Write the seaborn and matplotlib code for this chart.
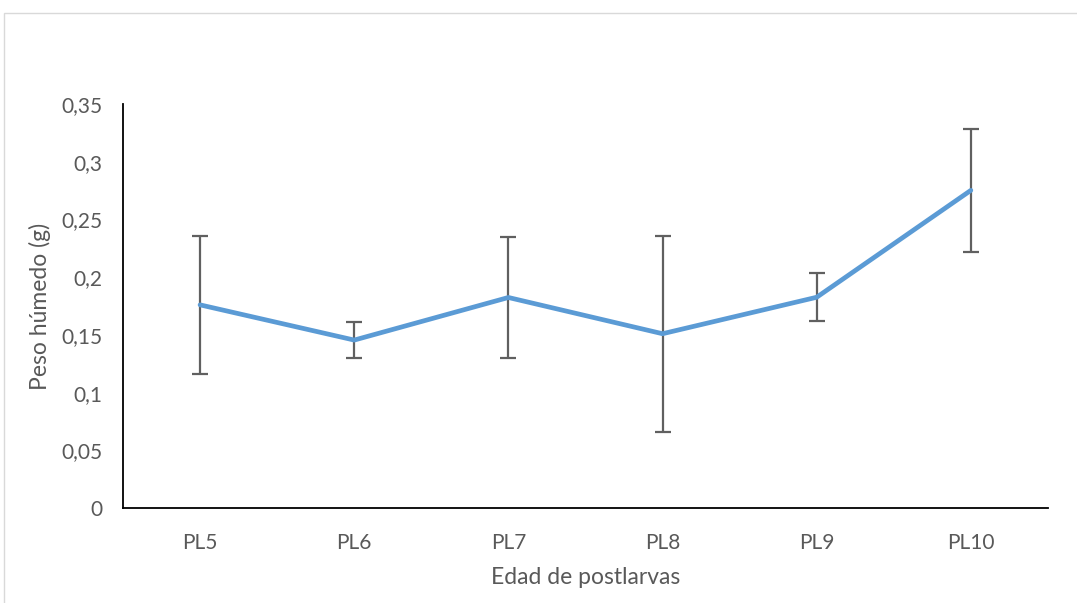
import matplotlib
matplotlib.use("Agg")
import matplotlib.pyplot as plt
import seaborn as sns
import pandas as pd
from matplotlib.patches import Rectangle
from matplotlib.ticker import FuncFormatter

# Wet weight of postlarvae by age (mean and error)
edades = ["PL5", "PL6", "PL7", "PL8", "PL9", "PL10"]
peso_medio = [0.176, 0.1455, 0.1824, 0.151, 0.1826, 0.2752]
peso_error = [0.060, 0.0156, 0.0522, 0.0849, 0.0206, 0.0534]

y_ticks = [0, 0.05, 0.1, 0.15, 0.2, 0.25, 0.3, 0.35]

df = pd.DataFrame({"edad": edades, "peso": peso_medio, "err": peso_error})

sns.set_style("white")
plt.rcParams["font.family"] = ["Lato", "DejaVu Sans"]

fig = plt.figure(figsize=(10.77, 6.03), dpi=100)
ax = fig.add_axes([0.1142, 0.1575, 0.973 - 0.1142, 0.8275 - 0.1575])

# outer chart border
fig.patches.append(Rectangle((4 / 1077, -0.05), 1.2, 1 - 13 / 603 + 0.05,
                             transform=fig.transFigure, fill=False,
                             edgecolor="#D9D9D9", linewidth=1.0, zorder=0))

xpos = list(range(len(edades)))
ax.errorbar(xpos, df["peso"], yerr=df["err"], fmt="none",
            ecolor="#606060", elinewidth=1.6, capsize=6, capthick=1.6, zorder=2)
sns.lineplot(x=xpos, y=df["peso"], ax=ax, color="#5B9BD5", linewidth=3.4,
             sort=False, zorder=3)

ax.set_xlim(-0.5, len(edades) - 0.5)
ax.set_ylim(0, 0.35)
ax.set_xticks(xpos)
ax.set_xticklabels(edades)
ax.set_yticks(y_ticks)
ax.yaxis.set_major_formatter(FuncFormatter(
    lambda v, p: ("%g" % round(v, 2)).replace(".", ",")))

for side in ["top", "right"]:
    ax.spines[side].set_visible(False)
for side in ["left", "bottom"]:
    ax.spines[side].set_visible(True)
    ax.spines[side].set_color("black")
    ax.spines[side].set_linewidth(1.3)

ax.tick_params(axis="both", length=0, labelsize=15, colors="#595959")
ax.tick_params(axis="y", pad=15)
ax.tick_params(axis="x", pad=18)

ax.set_xlabel("Edad de postlarvas", fontsize=16.5, color="#595959", labelpad=10)
ax.set_ylabel("Peso húmedo (g)", fontsize=16.5, color="#595959", labelpad=7)
ax.grid(False)

fig.savefig("out.png", dpi=100, facecolor="white")
